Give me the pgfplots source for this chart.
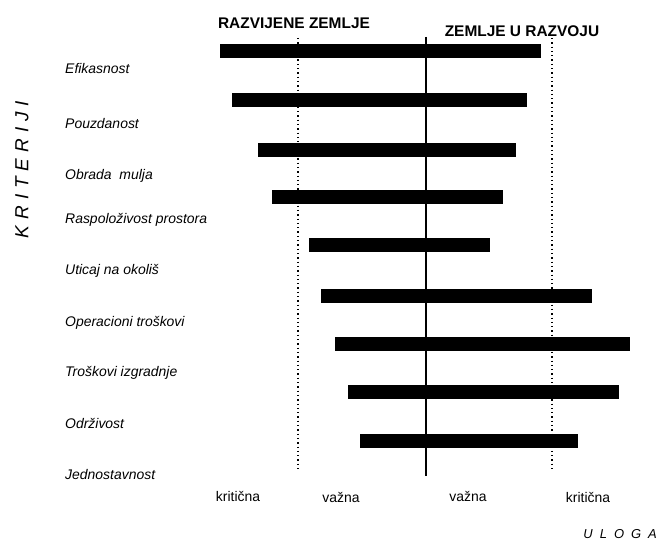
\documentclass[border=0pt]{standalone}
\usepackage{fontspec}
\setmainfont{Liberation Sans}
\usepackage{pgfplots}
\pgfplotsset{compat=1.18}

% bars: row position, left end, right end (picture units)
\begin{document}
\begin{tikzpicture}
\begin{axis}[
    width=659bp, height=542bp, scale only axis,
    xmin=0, xmax=659, ymin=0, ymax=542, y dir=reverse,
    hide axis, clip=false,
    every axis plot/.append style={forget plot},
    bar/.style={black, line width=14bp, line cap=butt},
    guide/.style={black, line width=1.3bp, dash pattern=on 1.3bp off 3bp},
]
\path (axis cs:0,0) rectangle (axis cs:659,542);

% reference lines
\addplot[guide] coordinates {(298,38) (298,471)};
\addplot[guide] coordinates {(552,38) (552,472)};

% ranges
\addplot[bar] coordinates {(220,51) (541,51)};
\addplot[bar] coordinates {(232,100) (527,100)};
\addplot[bar] coordinates {(258,149.5) (516,149.5)};
\addplot[bar] coordinates {(272,197) (503,197)};
\addplot[bar] coordinates {(309,245) (490,245)};
\addplot[bar] coordinates {(321,296) (592,296)};
\addplot[bar] coordinates {(335,344) (630,344)};
\addplot[bar] coordinates {(348,392) (619,392)};
\addplot[bar] coordinates {(360,441) (578,441)};

\addplot[black, line width=2.6bp] coordinates {(426,37) (426,476)};

% criteria
\begin{scope}[every node/.style={anchor=west, inner sep=0pt, font=\fontsize{14}{16}\selectfont\itshape}]
\node at (axis cs:65,69) {Efikasnost};
\node at (axis cs:65,124) {Pouzdanost};
\node at (axis cs:65,176) {Obrada\ \ mulja};
\node at (axis cs:65,220) {Raspoloživost prostora};
\node at (axis cs:65,271) {Uticaj na okoliš};
\node at (axis cs:65,323) {Operacioni troškovi};
\node at (axis cs:65,373) {Troškovi izgradnje};
\node at (axis cs:65,423) {Održivost};
\node at (axis cs:65,475) {Jednostavnost};
\end{scope}

% role scale
\begin{scope}[every node/.style={inner sep=0pt, font=\fontsize{14}{16}\selectfont}]
\node at (axis cs:238,496) {kritična};
\node at (axis cs:341,497) {važna};
\node at (axis cs:468,496) {važna};
\node at (axis cs:588,497) {kritična};
\end{scope}

\node[inner sep=0pt, font=\fontsize{15.5}{17}\selectfont\bfseries] at (axis cs:294,23.5) {RAZVIJENE ZEMLJE};
\node[inner sep=0pt, font=\fontsize{15.5}{17}\selectfont\bfseries] at (axis cs:522,31) {ZEMLJE U RAZVOJU};

\node[rotate=90, inner sep=0pt, font=\fontsize{19}{21}\selectfont\itshape] at (axis cs:22,169.5)
  {K\hspace{6bp}R\hspace{6bp}I\hspace{6bp}T\hspace{6bp}E\hspace{6bp}R\hspace{6bp}I\hspace{6bp}J\hspace{6bp}I};
\node[anchor=east, inner sep=0pt, font=\fontsize{13}{15}\selectfont\itshape] at (axis cs:657,534)
  {U\hspace{7bp}L\hspace{7bp}O\hspace{7bp}G\hspace{7bp}A};
\end{axis}
\end{tikzpicture}
\end{document}
